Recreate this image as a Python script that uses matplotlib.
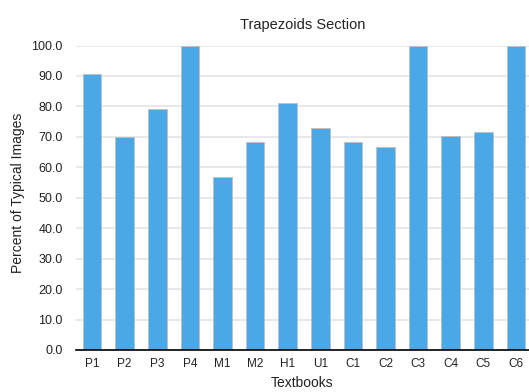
import matplotlib
matplotlib.use("Agg")
import matplotlib.pyplot as plt

categories = ["P1", "P2", "P3", "P4", "M1", "M2", "H1", "U1", "C1", "C2", "C3", "C4", "C5", "C6"]
values = [90.6, 69.8, 79.1, 100.0, 56.8, 68.2, 81.1, 72.8, 68.2, 66.6, 100.0, 70.3, 71.5, 100.0]
yticks = [0, 10, 20, 30, 40, 50, 60, 70, 80, 90, 100]

plt.rcParams['font.family'] = ['Liberation Sans', 'DejaVu Sans']

fig = plt.figure(figsize=(5.29, 3.92), dpi=100)
ax = fig.add_axes([76/529, 1-350/392, 1-76/529, (350-45.5)/392])
x = list(range(len(categories)))
ax.bar(x, values, width=0.57, color="#4BA8E6", edgecolor="#bfbfbf", linewidth=0.6, zorder=3)
ax.set_xlim(-0.49, 13.4)
ax.set_ylim(0, 100)
ax.set_yticks(yticks)
ax.set_yticklabels([f"{v:.1f}" for v in yticks], fontsize=9)
ax.set_xticks(x)
ax.set_xticklabels(categories, fontsize=8.5)
ax.yaxis.grid(True, color="#e4e4e4", linewidth=1.2, zorder=0)
ax.set_axisbelow(True)
for s in ["top", "right", "left"]:
    ax.spines[s].set_visible(False)
ax.spines["bottom"].set_color("black")
ax.spines["bottom"].set_linewidth(1.2)
ax.spines["bottom"].set_zorder(4)
ax.tick_params(axis="x", length=0, pad=6, colors="#222222")
ax.tick_params(axis="y", length=0, pad=9.5, colors="#222222")
ax.set_title("Trapezoids Section", fontsize=10.5, pad=12, color="#222222")
ax.set_xlabel("Textbooks", fontsize=10, color="#222222")
ax.set_ylabel("Percent of Typical Images", fontsize=10, color="#222222")
ax.yaxis.set_label_coords((18 - 76) / 453, 0.517)
ax.xaxis.set_label_coords(0.5, -(383 - 350) / 304.5)
ax.xaxis.label.set_va("center")
ax.yaxis.label.set_va("center")
fig.savefig("out.png", dpi=100)
